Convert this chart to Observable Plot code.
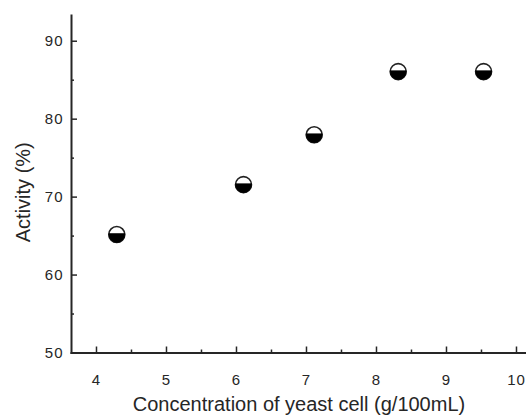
<!DOCTYPE html>
<html><head><meta charset="utf-8">
<script src="https://cdn.jsdelivr.net/npm/d3@7"></script>
<script src="https://cdn.jsdelivr.net/npm/@observablehq/plot@0.6"></script>
<style>
body{margin:0;background:#fff}
g[aria-label="x-title"] text {letter-spacing:1.2px; font-size:20px}
g[aria-label="y-title"] text {letter-spacing:2px; font-size:20px}
g[aria-label="x-axis tick label"] text, g[aria-label="y-axis tick label"] text {letter-spacing:1px; font-size:15px}
</style>
</head><body><div id="chart"></div>
<script>
const concentration = [4.29, 6.10, 7.11, 8.31, 9.53];
const activity = [65.2, 71.6, 78.0, 86.1, 86.1];
const xTicks = [4, 5, 6, 7, 8, 9, 10];
const xMinorTicks = [4.5, 5.5, 6.5, 7.5, 8.5, 9.5];
const yTicks = [50, 60, 70, 80, 90];
const yMinorTicks = [55, 65, 75, 85];
const xTitle = "Concentration of yeast cell (g/100mL)";
const yTitle = "Activity (%)";

const data = concentration.map((c, i) => ({c, a: activity[i]}));

// lower part of the marker, filled black (chord slightly above the centre)
const lowerHalf = {
  draw(ctx, size) {
    const r = Math.sqrt(size / Math.PI);
    const a = Math.asin(0.12);
    ctx.moveTo(r * Math.cos(-a), r * Math.sin(-a));
    ctx.arc(0, 0, r, -a, Math.PI + a);
    ctx.closePath();
  }
};

const ink = "#262626";
const chart = Plot.plot({
  width: 526, height: 415,
  marginLeft: 71, marginRight: 0, marginTop: 15, marginBottom: 62.5,
  x: {domain: [3.643, 10.143]},
  y: {domain: [50, 93.3]},
  style: {fontFamily: "'Liberation Sans', Arial, sans-serif", color: ink, background: "#fff"},
  marks: [
    Plot.frame({anchor: "bottom", stroke: ink, strokeWidth: 2}),
    Plot.frame({anchor: "left", stroke: ink, strokeWidth: 2}),
    Plot.axisX(xTicks, {tickSize: 0, tickPadding: 21, fontSize: 15, label: null}),
    Plot.axisX(xTicks, {tickSize: -6, text: null, label: null, strokeWidth: 1.5, stroke: ink}),
    Plot.axisX(xMinorTicks, {tickSize: -3, text: null, label: null, strokeWidth: 1.5, stroke: ink}),
    Plot.axisY(yTicks, {tickSize: 0, tickPadding: 8, fontSize: 15, label: null}),
    Plot.axisY(yTicks, {tickSize: -6, text: null, label: null, strokeWidth: 1.5, stroke: ink}),
    Plot.axisY(yMinorTicks, {tickSize: -3, text: null, label: null, strokeWidth: 1.5, stroke: ink}),
    Plot.dot(data, {x: "c", y: "a", r: 8, fill: "#fff", stroke: "#222", strokeWidth: 1.6}),
    Plot.dot(data, {x: "c", y: "a", r: 8, symbol: lowerHalf, fill: "#000", stroke: "#000", strokeWidth: 0.6}),
    Plot.text([xTitle], {frameAnchor: "bottom", dy: 52, textAnchor: "middle", lineAnchor: "middle", fontSize: 20, fill: ink, ariaLabel: "x-title"}),
    Plot.text([yTitle], {frameAnchor: "left", dx: -48, dy: 8, rotate: -90, textAnchor: "middle", lineAnchor: "middle", fontSize: 20, fill: ink, ariaLabel: "y-title"})
  ]
});
document.getElementById("chart").append(chart);
</script>
</body></html>
